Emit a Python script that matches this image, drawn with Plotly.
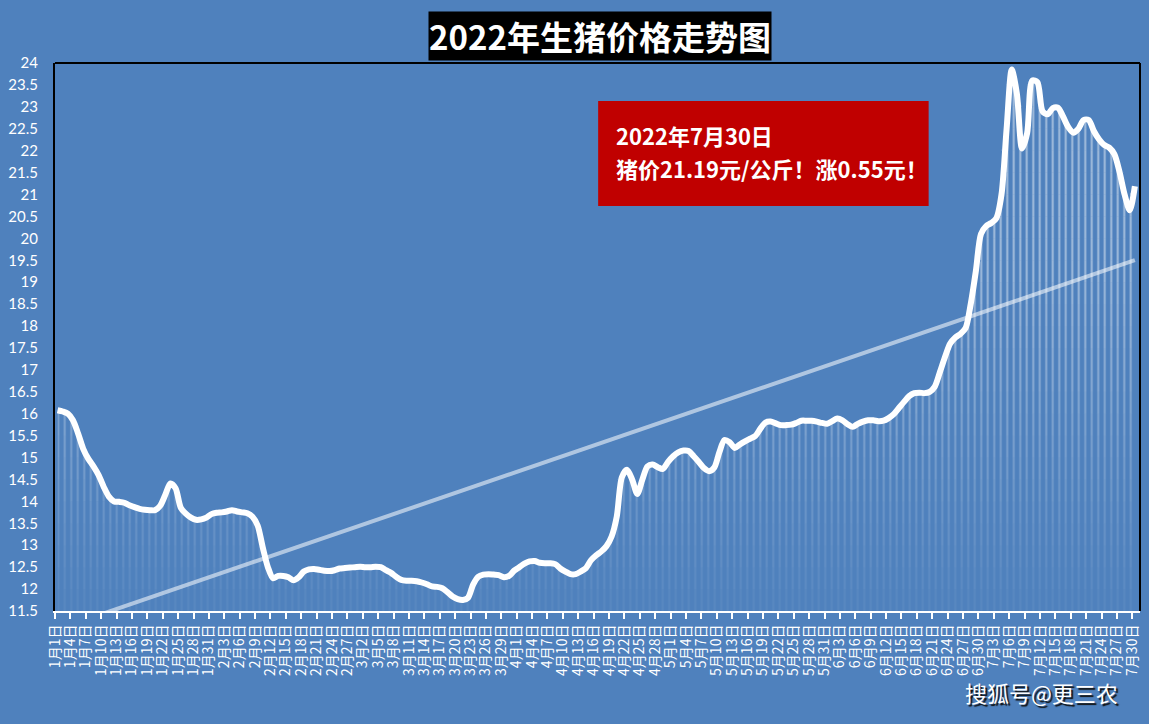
import numpy as np
import plotly.graph_objects as go

# ---------------- data ----------------
month_days = [31, 28, 31, 30, 31, 30, 30]
dates = [f"{m}月{d}日" for m, nd in enumerate(month_days, start=1) for d in range(1, nd + 1)]

prices = [
    16.08, 16.05, 16.0, 15.85, 15.55, 15.2, 14.97, 14.8, 14.6, 14.33,
    14.11, 14.0, 13.99, 13.97, 13.91, 13.87, 13.83, 13.81, 13.8, 13.8,
    13.9, 14.15, 14.41, 14.3, 13.86, 13.72, 13.63, 13.58, 13.59, 13.63,
    13.71, 13.74, 13.75, 13.77, 13.8, 13.77, 13.75, 13.73, 13.65, 13.45,
    12.95, 12.5, 12.25, 12.3, 12.3, 12.27, 12.2, 12.27, 12.4, 12.45,
    12.46, 12.44, 12.42, 12.41, 12.43, 12.47, 12.48, 12.49, 12.5, 12.51,
    12.5, 12.5, 12.51, 12.5, 12.43, 12.37, 12.28, 12.21, 12.19, 12.19,
    12.18, 12.15, 12.11, 12.06, 12.05, 12.02, 11.93, 11.83, 11.77, 11.75,
    11.8, 12.1, 12.28, 12.33, 12.34, 12.33, 12.32, 12.27, 12.3, 12.42,
    12.5, 12.58, 12.63, 12.64, 12.6, 12.59, 12.59, 12.57, 12.47, 12.4,
    12.34, 12.34, 12.4, 12.48, 12.66, 12.77, 12.86, 12.98, 13.2, 13.65,
    14.55, 14.72, 14.5, 14.17, 14.5, 14.8, 14.84, 14.78, 14.74, 14.9,
    15.03, 15.12, 15.16, 15.15, 15.03, 14.9, 14.76, 14.69, 14.77, 15.12,
    15.4, 15.35, 15.22, 15.3, 15.37, 15.43, 15.49, 15.66, 15.8, 15.82,
    15.78, 15.74, 15.74, 15.75, 15.79, 15.84, 15.84, 15.84, 15.82, 15.79,
    15.77, 15.83, 15.89, 15.85, 15.76, 15.7, 15.77, 15.82, 15.85, 15.85,
    15.83, 15.84, 15.9, 15.99, 16.13, 16.27, 16.4, 16.47, 16.48, 16.47,
    16.5, 16.62, 16.95, 17.3, 17.6, 17.74, 17.82, 17.95, 18.5, 19.25,
    20.1, 20.28, 20.35, 20.46, 21.0, 22.5, 23.85, 23.3, 22.05, 22.4,
    23.6, 23.56, 22.9, 22.83, 22.97, 22.98, 22.78, 22.54, 22.41, 22.5,
    22.7, 22.7, 22.45, 22.26, 22.13, 22.07, 21.92, 21.52, 21.0, 20.64,
    21.19,
]

y_ticks = [11.5 + 0.5 * k for k in range(26)]
y_labels = [f"{v:g}" for v in y_ticks]
label_step = 3

title_text = "2022年生猪价格走势图"
note_line1 = "2022年7月30日"
note_line2 = "猪价21.19元/公斤！涨0.55元！"
watermark = "搜狐号@更三农"

# ---------------- figure ----------------
BG = "#4F81BD"
x = np.arange(len(dates))
p = np.array(prices)

fig = go.Figure()

# striped gradient fill below the curve (bands with increasing opacity)
for lo in np.arange(11.5, 24.0, 0.5):
    hi = lo + 0.5
    top = np.clip(p, lo, hi)
    a = min(0.97, 0.08 + (lo + 0.25 - 11.5) / 8.0 * 0.9)
    fig.add_trace(go.Scatter(x=x, y=np.full(len(x), lo), mode="lines",
                             line=dict(width=0), hoverinfo="skip", showlegend=False))
    fig.add_trace(go.Scatter(
        x=x, y=top, mode="lines", line=dict(width=0), fill="tonexty",
        fillcolor="rgba(0,0,0,0)",
        fillpattern=dict(shape="|", size=6.5, solidity=0.3,
                         fgcolor=f"rgba(255,255,255,{a:.3f})",
                         bgcolor="rgba(0,0,0,0)"),
        hoverinfo="skip", showlegend=False))

# linear trend line
coef = np.polyfit(x, p, 1)
trend = np.polyval(coef, x)
fig.add_trace(go.Scatter(x=x, y=trend, mode="lines",
                         line=dict(color="rgba(255,255,255,0.55)", width=4),
                         hoverinfo="skip", showlegend=False))

# main price line
fig.add_trace(go.Scatter(x=x, y=p, mode="lines",
                         line=dict(color="white", width=6, shape="spline", smoothing=0.8),
                         showlegend=False))

tickvals = [i - 0.5 for i in range(0, len(dates), label_step)]
ticktext = [dates[i] for i in range(0, len(dates), label_step)]

fig.update_layout(
    width=1149, height=724,
    margin=dict(l=54, r=8, t=63, b=113),
    paper_bgcolor=BG, plot_bgcolor=BG,
    xaxis=dict(range=[-0.5, 211.0], tickmode="array", tickvals=tickvals, ticktext=ticktext,
               tickangle=-90, ticks="outside", ticklen=6, tickwidth=1.5, tickcolor="white",
               showline=True, linecolor="white", linewidth=2, showgrid=False, zeroline=False,
               tickfont=dict(color="white", size=14, family="Noto Sans CJK SC")),
    yaxis=dict(range=[11.5, 24], tickmode="array", tickvals=y_ticks, ticktext=y_labels,
               showline=True, linecolor="black", linewidth=2, ticks="", showgrid=False,
               zeroline=False, ticklabelstandoff=12,
               tickfont=dict(color="white", size=15, family="Lato")),
    shapes=[
        dict(type="line", xref="paper", yref="paper", x0=0, x1=1, y0=1, y1=1,
             line=dict(color="black", width=2), layer="above"),
        dict(type="line", xref="paper", yref="paper", x0=1, x1=1, y0=0, y1=1,
             line=dict(color="black", width=2), layer="above"),
        dict(type="rect", xref="paper", yref="paper", x0=0.5006, x1=0.8052,
             y0=0.739, y1=0.9307, fillcolor="#C00000", line=dict(width=0), layer="above"),
    ],
    annotations=[
        dict(text=f"<b>{title_text}</b>", xref="paper", yref="paper", x=0.5024, y=1.0493,
             xanchor="center", yanchor="middle", showarrow=False, bgcolor="black", borderpad=0,
             font=dict(color="white", size=33, family="Noto Sans CJK SC")),
        dict(text=f"<b>{note_line1}</b>", xref="paper", yref="paper", x=0.5153,
             y=(611 - 135) / 548, xanchor="left", yanchor="middle", showarrow=False,
             font=dict(color="white", size=22, family="Noto Sans CJK SC")),
        dict(text=f"<b>{note_line2}</b>", xref="paper", yref="paper", x=0.5153,
             y=(611 - 168) / 548, xanchor="left", yanchor="middle", showarrow=False,
             font=dict(color="white", size=22, family="Noto Sans CJK SC")),
        dict(text=watermark, xref="paper", yref="paper", x=0.909, y=-0.148,
             xanchor="center", yanchor="middle", showarrow=False,
             font=dict(color="white", size=22, family="Noto Sans CJK SC",
                       shadow="2px 2px 1px #111111")),
    ],
)

fig.write_html("out.html")
